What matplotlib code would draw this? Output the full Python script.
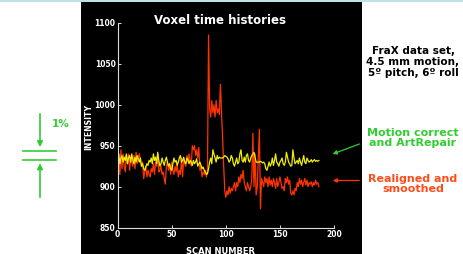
import numpy as np
import matplotlib
matplotlib.use("Agg")
import matplotlib.pyplot as plt
from matplotlib.patches import Rectangle

# ---- data (one value per scan, 0..186) ----
red = [
    912, 930, 915, 945, 922, 940, 925, 918, 938, 928,
    940, 920, 935, 930, 925, 938, 922, 942, 928, 935,
    940, 932, 925, 930, 910, 918, 925, 912, 920, 915,
    912, 922, 918, 928, 915, 930, 925, 940, 918, 920,
    925, 915, 918, 910, 903, 925, 930, 920, 928, 915,
    930, 920, 915, 925, 918, 928, 912, 920, 915, 935,
    912, 935, 928, 925, 938, 930, 940, 932, 925, 950,
    945, 950, 938, 945, 935, 948, 920, 925, 912, 918,
    915, 920, 912, 918, 1085, 995, 985, 1005, 990, 1000,
    985, 1005, 990, 995, 988, 1025, 990, 960, 925, 895,
    887, 895, 890, 900, 892, 898, 895, 900, 905, 895,
    905, 900, 912, 905, 915, 910, 920, 905, 900, 895,
    905, 900, 895, 900, 910, 965, 900, 940, 890, 900,
    935, 970, 873, 910, 905, 900, 912, 905, 910, 900,
    912, 902, 908, 900, 910, 905, 898, 910, 900, 905,
    912, 905, 898, 900, 895, 910, 905, 912, 903, 908,
    892, 890, 895, 890, 898, 895, 905, 900, 910, 903,
    908, 900, 905, 910, 902, 908, 900, 905, 903, 906,
    900, 905, 902, 908, 903, 905, 900,
]
yellow = [
    942, 940, 928, 935, 938, 930, 936, 932, 940, 928,
    935, 938, 930, 940, 932, 928, 936, 930, 938, 934,
    930, 935, 925, 928, 922, 920, 924, 928, 926, 932,
    930, 935, 928, 940, 932, 936, 928, 942, 932, 925,
    928, 935, 930, 926, 932, 936, 930, 925, 928, 922,
    920, 928, 935, 930, 932, 926, 930, 935, 938, 930,
    932, 936, 930, 928, 935, 933, 928, 932, 930, 926,
    932, 928, 930, 934, 925, 928, 930, 926, 922, 924,
    920, 918, 915, 916, 922, 930, 935, 928, 945, 940,
    935, 930, 938, 934, 936, 935, 935, 935, 936, 938,
    937, 936, 934, 930, 932, 938, 935, 928, 925, 930,
    935, 928, 930, 940, 945, 932, 930, 936, 930, 938,
    940, 932, 930, 935, 938, 940, 942, 936, 930, 930,
    930, 930, 931, 930, 929, 930, 928, 922, 920, 925,
    930, 925, 928, 935, 926, 932, 940, 930, 928, 925,
    930, 932, 935, 928, 926, 930, 942, 936, 930, 928,
    925, 926, 945, 935, 928, 930, 932, 928, 935, 930,
    926, 932, 938, 930, 928, 935, 932, 930, 931, 933,
    930, 932, 933, 931, 932, 931, 932,
]
scans = np.arange(len(red))
yticks = [850, 900, 950, 1000, 1050, 1100]
xticks = [0, 50, 100, 150, 200]

W, H = 463, 254
fig = plt.figure(figsize=(W / 100, H / 100), dpi=100)
fig.patch.set_facecolor("white")

# black slide panel + thin cyan rule along the top
fig.patches.append(Rectangle((81 / W, 0), 281 / W, 252 / H, transform=fig.transFigure,
                             facecolor="black", edgecolor="none", zorder=-2))
fig.patches.append(Rectangle((0, 252.5 / H), 1, 1.5 / H, transform=fig.transFigure,
                             facecolor="#bde3e6", edgecolor="none", zorder=-2))

ax = fig.add_axes([117.7 / W, 26.3 / H, 216.3 / W, 205 / H])
ax.set_facecolor("black")
ax.plot(scans, red, color="#ff3300", lw=0.9)
ax.plot(scans, yellow, color="#f0f000", lw=0.9)
ax.set_xlim(0, 200); ax.set_ylim(850, 1100)
ax.set_xticks(xticks); ax.set_yticks(yticks)
for s in ["top", "right"]:
    ax.spines[s].set_visible(False)
for s in ["left", "bottom"]:
    ax.spines[s].set_color("#dddddd"); ax.spines[s].set_linewidth(0.8)
ax.tick_params(colors="white", labelcolor="white", direction="in", length=2, width=0.6,
               labelsize=6, pad=1.5)
for lab in ax.get_xticklabels() + ax.get_yticklabels():
    lab.set_fontweight("bold"); lab.set_fontstretch("condensed")

fig.text(220 / W, 1 - 21 / H, "Voxel time histories", color="white", fontsize=8.5,
         fontweight="bold", ha="center", va="center")
fig.text(89 / W, 1 - 127 / H, "INTENSITY", color="white", fontsize=5.6, fontweight="bold",
         rotation=90, ha="center", va="center")
fig.text(220 / W, 1 - 251 / H, "SCAN NUMBER", color="white", fontsize=6, fontweight="bold",
         ha="center", va="center")

# right-hand notes
fig.text(413 / W, 1 - 62 / H, "FraX data set,\n4.5 mm motion,\n5º pitch, 6º roll", color="black",
         fontsize=7.5, fontweight="bold", ha="center", va="center", linespacing=1.15)
fig.text(413 / W, 1 - 138 / H, "Motion correct\nand ArtRepair", color="#33cc33",
         fontsize=8, fontweight="bold", ha="center", va="center", linespacing=1.1)
fig.text(413 / W, 1 - 184 / H, "Realigned and\nsmoothed", color="#ff4d1a",
         fontsize=8, fontweight="bold", ha="center", va="center", linespacing=1.1)

arrow = dict(arrowstyle="-|>", lw=0.9, mutation_scale=6)
fig.add_artist(plt.Annotation("", xy=(330, H - 155), xycoords="figure pixels", xytext=(362, H - 143),
                              textcoords="figure pixels", arrowprops=dict(arrow, color="#33cc33")))
fig.add_artist(plt.Annotation("", xy=(330, H - 180.5), xycoords="figure pixels", xytext=(362, H - 180.5),
                              textcoords="figure pixels", arrowprops=dict(arrow, color="#ff3300")))

# 1% scale marker on the left
g = "#33cc33"
fig.add_artist(plt.Annotation("", xy=(40, H - 150), xycoords="figure pixels", xytext=(40, H - 111),
                              textcoords="figure pixels",
                              arrowprops=dict(arrowstyle="-|>", lw=1.2, color=g, mutation_scale=8)))
fig.add_artist(plt.Annotation("", xy=(40, H - 160.5), xycoords="figure pixels", xytext=(40, H - 200),
                              textcoords="figure pixels",
                              arrowprops=dict(arrowstyle="-|>", lw=1.2, color=g, mutation_scale=8)))
for yy in [150.7, 160.3]:
    fig.add_artist(plt.Line2D([22.7 / W, 56 / W], [1 - yy / H, 1 - yy / H], color=g, lw=1.2,
                              transform=fig.transFigure))
fig.text(61 / W, 1 - 124 / H, "1%", color=g, fontsize=7.5, fontweight="bold",
         ha="center", va="center")

fig.savefig("out.png", dpi=100, facecolor="white")
